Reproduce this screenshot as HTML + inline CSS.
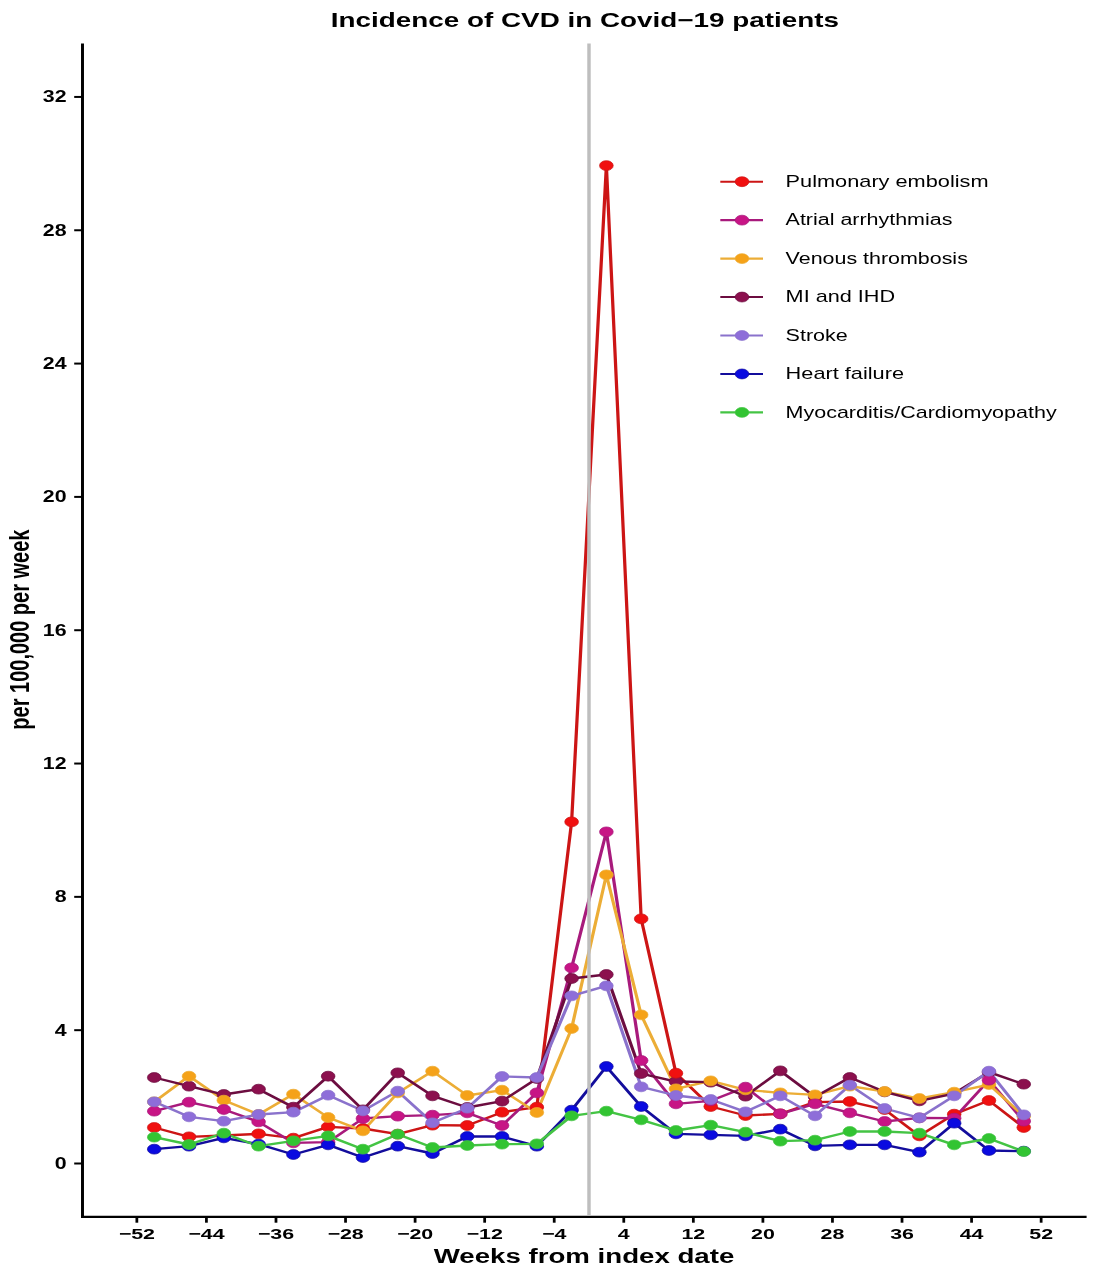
<!DOCTYPE html>
<html><head><meta charset="utf-8"><title>Incidence of CVD in Covid-19 patients</title>
<style>html,body{margin:0;padding:0;background:#fff;}svg{display:block;will-change:transform;}text{font-family:"Liberation Sans",sans-serif;}</style>
</head><body>
<svg width="1113" height="1280" viewBox="0 0 1113 1280">
<rect width="1113" height="1280" fill="#fff"/>
<g transform="scale(1.38,1)">
<line x1="59.78" y1="43.5" x2="59.78" y2="1217.9" stroke="#000" stroke-width="2.15"/>
<line x1="59.06" y1="1216.85" x2="787.39" y2="1216.85" stroke="#000" stroke-width="2.1"/>
<line x1="53.77" y1="1163.50" x2="59.78" y2="1163.50" stroke="#000" stroke-width="2.0"/>
<line x1="53.77" y1="1030.18" x2="59.78" y2="1030.18" stroke="#000" stroke-width="2.0"/>
<line x1="53.77" y1="896.86" x2="59.78" y2="896.86" stroke="#000" stroke-width="2.0"/>
<line x1="53.77" y1="763.54" x2="59.78" y2="763.54" stroke="#000" stroke-width="2.0"/>
<line x1="53.77" y1="630.22" x2="59.78" y2="630.22" stroke="#000" stroke-width="2.0"/>
<line x1="53.77" y1="496.90" x2="59.78" y2="496.90" stroke="#000" stroke-width="2.0"/>
<line x1="53.77" y1="363.58" x2="59.78" y2="363.58" stroke="#000" stroke-width="2.0"/>
<line x1="53.77" y1="230.26" x2="59.78" y2="230.26" stroke="#000" stroke-width="2.0"/>
<line x1="53.77" y1="96.94" x2="59.78" y2="96.94" stroke="#000" stroke-width="2.0"/>
<line x1="99.17" y1="1216.85" x2="99.17" y2="1222.7" stroke="#000" stroke-width="2.0"/>
<line x1="149.58" y1="1216.85" x2="149.58" y2="1222.7" stroke="#000" stroke-width="2.0"/>
<line x1="199.99" y1="1216.85" x2="199.99" y2="1222.7" stroke="#000" stroke-width="2.0"/>
<line x1="250.39" y1="1216.85" x2="250.39" y2="1222.7" stroke="#000" stroke-width="2.0"/>
<line x1="300.80" y1="1216.85" x2="300.80" y2="1222.7" stroke="#000" stroke-width="2.0"/>
<line x1="351.20" y1="1216.85" x2="351.20" y2="1222.7" stroke="#000" stroke-width="2.0"/>
<line x1="401.61" y1="1216.85" x2="401.61" y2="1222.7" stroke="#000" stroke-width="2.0"/>
<line x1="452.01" y1="1216.85" x2="452.01" y2="1222.7" stroke="#000" stroke-width="2.0"/>
<line x1="502.42" y1="1216.85" x2="502.42" y2="1222.7" stroke="#000" stroke-width="2.0"/>
<line x1="552.83" y1="1216.85" x2="552.83" y2="1222.7" stroke="#000" stroke-width="2.0"/>
<line x1="603.23" y1="1216.85" x2="603.23" y2="1222.7" stroke="#000" stroke-width="2.0"/>
<line x1="653.64" y1="1216.85" x2="653.64" y2="1222.7" stroke="#000" stroke-width="2.0"/>
<line x1="704.04" y1="1216.85" x2="704.04" y2="1222.7" stroke="#000" stroke-width="2.0"/>
<line x1="754.45" y1="1216.85" x2="754.45" y2="1222.7" stroke="#000" stroke-width="2.0"/>
<polyline points="111.78,1127.50 136.98,1136.84 162.18,1135.50 187.38,1133.84 212.59,1138.17 237.79,1126.84 262.99,1128.50 288.20,1134.17 313.40,1125.17 338.60,1125.50 363.80,1112.17 389.01,1107.17 414.21,821.87 439.41,165.60 464.62,918.86 489.82,1073.18 515.02,1106.51 540.22,1115.50 565.43,1113.84 590.63,1102.17 615.83,1101.51 641.04,1109.51 666.24,1135.84 691.44,1114.17 716.64,1100.51 741.85,1127.50" fill="none" stroke="#cc1515" stroke-width="2.35" stroke-linejoin="round"/>
<polyline points="111.78,1111.17 136.98,1102.17 162.18,1109.51 187.38,1121.84 212.59,1142.84 237.79,1142.17 262.99,1118.50 288.20,1116.17 313.40,1115.17 338.60,1112.84 363.80,1125.50 389.01,1092.84 414.21,967.85 439.41,831.87 464.62,1060.51 489.82,1103.84 515.02,1100.84 540.22,1087.17 565.43,1113.84 590.63,1103.84 615.83,1112.84 641.04,1121.50 666.24,1117.84 691.44,1118.17 716.64,1080.17 741.85,1121.17" fill="none" stroke="#a81a7c" stroke-width="2.35" stroke-linejoin="round"/>
<polyline points="111.78,1101.84 136.98,1076.18 162.18,1100.17 187.38,1114.50 212.59,1094.17 237.79,1117.50 262.99,1130.84 288.20,1092.84 313.40,1071.18 338.60,1095.51 363.80,1090.17 389.01,1112.51 414.21,1028.51 439.41,874.86 464.62,1014.85 489.82,1088.84 515.02,1080.84 540.22,1089.84 565.43,1092.84 590.63,1094.84 615.83,1086.17 641.04,1091.51 666.24,1098.51 691.44,1092.17 716.64,1084.51 741.85,1116.17" fill="none" stroke="#ecad36" stroke-width="2.35" stroke-linejoin="round"/>
<polyline points="111.78,1077.51 136.98,1086.17 162.18,1094.51 187.38,1089.17 212.59,1107.17 237.79,1076.18 262.99,1109.84 288.20,1072.84 313.40,1095.84 338.60,1107.51 363.80,1101.17 389.01,1078.51 414.21,978.52 439.41,974.52 464.62,1073.51 489.82,1081.51 515.02,1082.17 540.22,1096.17 565.43,1070.84 590.63,1096.84 615.83,1077.51 641.04,1091.84 666.24,1100.84 691.44,1093.51 716.64,1072.18 741.85,1084.17" fill="none" stroke="#6c0d40" stroke-width="2.35" stroke-linejoin="round"/>
<polyline points="111.78,1101.84 136.98,1116.84 162.18,1121.17 187.38,1114.50 212.59,1112.17 237.79,1095.17 262.99,1110.84 288.20,1091.17 313.40,1122.84 338.60,1108.17 363.80,1076.51 389.01,1077.51 414.21,995.85 439.41,985.85 464.62,1086.84 489.82,1095.51 515.02,1099.51 540.22,1111.84 565.43,1095.84 590.63,1115.84 615.83,1085.17 641.04,1108.51 666.24,1117.84 691.44,1095.84 716.64,1071.18 741.85,1114.84" fill="none" stroke="#8a72cc" stroke-width="2.35" stroke-linejoin="round"/>
<polyline points="111.78,1149.17 136.98,1146.17 162.18,1137.84 187.38,1144.17 212.59,1154.50 237.79,1144.84 262.99,1157.50 288.20,1146.17 313.40,1153.50 338.60,1136.50 363.80,1136.50 389.01,1146.17 414.21,1110.17 439.41,1066.51 464.62,1106.51 489.82,1133.84 515.02,1134.84 540.22,1135.84 565.43,1129.17 590.63,1145.84 615.83,1144.84 641.04,1144.84 666.24,1152.17 691.44,1123.17 716.64,1150.50 741.85,1151.17" fill="none" stroke="#130d9c" stroke-width="2.35" stroke-linejoin="round"/>
<polyline points="111.78,1137.17 136.98,1144.50 162.18,1133.17 187.38,1146.17 212.59,1140.84 237.79,1135.84 262.99,1149.17 288.20,1134.17 313.40,1147.50 338.60,1145.50 363.80,1144.17 389.01,1143.84 414.21,1115.84 439.41,1111.17 464.62,1119.84 489.82,1130.50 515.02,1125.17 540.22,1132.17 565.43,1141.17 590.63,1140.17 615.83,1131.50 641.04,1131.50 666.24,1133.17 691.44,1144.84 716.64,1138.50 741.85,1151.50" fill="none" stroke="#44c444" stroke-width="2.35" stroke-linejoin="round"/>
<circle cx="111.78" cy="1077.51" r="4.95" fill="#8c104e" stroke="#6c0d40" stroke-width="0.6"/>
<circle cx="136.98" cy="1086.17" r="4.95" fill="#8c104e" stroke="#6c0d40" stroke-width="0.6"/>
<circle cx="162.18" cy="1094.51" r="4.95" fill="#8c104e" stroke="#6c0d40" stroke-width="0.6"/>
<circle cx="187.38" cy="1089.17" r="4.95" fill="#8c104e" stroke="#6c0d40" stroke-width="0.6"/>
<circle cx="212.59" cy="1107.17" r="4.95" fill="#8c104e" stroke="#6c0d40" stroke-width="0.6"/>
<circle cx="237.79" cy="1076.18" r="4.95" fill="#8c104e" stroke="#6c0d40" stroke-width="0.6"/>
<circle cx="262.99" cy="1109.84" r="4.95" fill="#8c104e" stroke="#6c0d40" stroke-width="0.6"/>
<circle cx="288.20" cy="1072.84" r="4.95" fill="#8c104e" stroke="#6c0d40" stroke-width="0.6"/>
<circle cx="313.40" cy="1095.84" r="4.95" fill="#8c104e" stroke="#6c0d40" stroke-width="0.6"/>
<circle cx="338.60" cy="1107.51" r="4.95" fill="#8c104e" stroke="#6c0d40" stroke-width="0.6"/>
<circle cx="363.80" cy="1101.17" r="4.95" fill="#8c104e" stroke="#6c0d40" stroke-width="0.6"/>
<circle cx="389.01" cy="1078.51" r="4.95" fill="#8c104e" stroke="#6c0d40" stroke-width="0.6"/>
<circle cx="414.21" cy="978.52" r="4.95" fill="#8c104e" stroke="#6c0d40" stroke-width="0.6"/>
<circle cx="439.41" cy="974.52" r="4.95" fill="#8c104e" stroke="#6c0d40" stroke-width="0.6"/>
<circle cx="464.62" cy="1073.51" r="4.95" fill="#8c104e" stroke="#6c0d40" stroke-width="0.6"/>
<circle cx="489.82" cy="1081.51" r="4.95" fill="#8c104e" stroke="#6c0d40" stroke-width="0.6"/>
<circle cx="515.02" cy="1082.17" r="4.95" fill="#8c104e" stroke="#6c0d40" stroke-width="0.6"/>
<circle cx="540.22" cy="1096.17" r="4.95" fill="#8c104e" stroke="#6c0d40" stroke-width="0.6"/>
<circle cx="565.43" cy="1070.84" r="4.95" fill="#8c104e" stroke="#6c0d40" stroke-width="0.6"/>
<circle cx="590.63" cy="1096.84" r="4.95" fill="#8c104e" stroke="#6c0d40" stroke-width="0.6"/>
<circle cx="615.83" cy="1077.51" r="4.95" fill="#8c104e" stroke="#6c0d40" stroke-width="0.6"/>
<circle cx="641.04" cy="1091.84" r="4.95" fill="#8c104e" stroke="#6c0d40" stroke-width="0.6"/>
<circle cx="666.24" cy="1100.84" r="4.95" fill="#8c104e" stroke="#6c0d40" stroke-width="0.6"/>
<circle cx="691.44" cy="1093.51" r="4.95" fill="#8c104e" stroke="#6c0d40" stroke-width="0.6"/>
<circle cx="716.64" cy="1072.18" r="4.95" fill="#8c104e" stroke="#6c0d40" stroke-width="0.6"/>
<circle cx="741.85" cy="1084.17" r="4.95" fill="#8c104e" stroke="#6c0d40" stroke-width="0.6"/>
<circle cx="111.78" cy="1127.50" r="4.95" fill="#f01010" stroke="#cc1515" stroke-width="0.6"/>
<circle cx="136.98" cy="1136.84" r="4.95" fill="#f01010" stroke="#cc1515" stroke-width="0.6"/>
<circle cx="162.18" cy="1135.50" r="4.95" fill="#f01010" stroke="#cc1515" stroke-width="0.6"/>
<circle cx="187.38" cy="1133.84" r="4.95" fill="#f01010" stroke="#cc1515" stroke-width="0.6"/>
<circle cx="212.59" cy="1138.17" r="4.95" fill="#f01010" stroke="#cc1515" stroke-width="0.6"/>
<circle cx="237.79" cy="1126.84" r="4.95" fill="#f01010" stroke="#cc1515" stroke-width="0.6"/>
<circle cx="262.99" cy="1128.50" r="4.95" fill="#f01010" stroke="#cc1515" stroke-width="0.6"/>
<circle cx="288.20" cy="1134.17" r="4.95" fill="#f01010" stroke="#cc1515" stroke-width="0.6"/>
<circle cx="313.40" cy="1125.17" r="4.95" fill="#f01010" stroke="#cc1515" stroke-width="0.6"/>
<circle cx="338.60" cy="1125.50" r="4.95" fill="#f01010" stroke="#cc1515" stroke-width="0.6"/>
<circle cx="363.80" cy="1112.17" r="4.95" fill="#f01010" stroke="#cc1515" stroke-width="0.6"/>
<circle cx="389.01" cy="1107.17" r="4.95" fill="#f01010" stroke="#cc1515" stroke-width="0.6"/>
<circle cx="414.21" cy="821.87" r="4.95" fill="#f01010" stroke="#cc1515" stroke-width="0.6"/>
<circle cx="439.41" cy="165.60" r="4.95" fill="#f01010" stroke="#cc1515" stroke-width="0.6"/>
<circle cx="464.62" cy="918.86" r="4.95" fill="#f01010" stroke="#cc1515" stroke-width="0.6"/>
<circle cx="489.82" cy="1073.18" r="4.95" fill="#f01010" stroke="#cc1515" stroke-width="0.6"/>
<circle cx="515.02" cy="1106.51" r="4.95" fill="#f01010" stroke="#cc1515" stroke-width="0.6"/>
<circle cx="540.22" cy="1115.50" r="4.95" fill="#f01010" stroke="#cc1515" stroke-width="0.6"/>
<circle cx="565.43" cy="1113.84" r="4.95" fill="#f01010" stroke="#cc1515" stroke-width="0.6"/>
<circle cx="590.63" cy="1102.17" r="4.95" fill="#f01010" stroke="#cc1515" stroke-width="0.6"/>
<circle cx="615.83" cy="1101.51" r="4.95" fill="#f01010" stroke="#cc1515" stroke-width="0.6"/>
<circle cx="641.04" cy="1109.51" r="4.95" fill="#f01010" stroke="#cc1515" stroke-width="0.6"/>
<circle cx="666.24" cy="1135.84" r="4.95" fill="#f01010" stroke="#cc1515" stroke-width="0.6"/>
<circle cx="691.44" cy="1114.17" r="4.95" fill="#f01010" stroke="#cc1515" stroke-width="0.6"/>
<circle cx="716.64" cy="1100.51" r="4.95" fill="#f01010" stroke="#cc1515" stroke-width="0.6"/>
<circle cx="741.85" cy="1127.50" r="4.95" fill="#f01010" stroke="#cc1515" stroke-width="0.6"/>
<circle cx="111.78" cy="1101.84" r="4.95" fill="#f5a219" stroke="#ecad36" stroke-width="0.6"/>
<circle cx="136.98" cy="1076.18" r="4.95" fill="#f5a219" stroke="#ecad36" stroke-width="0.6"/>
<circle cx="162.18" cy="1100.17" r="4.95" fill="#f5a219" stroke="#ecad36" stroke-width="0.6"/>
<circle cx="187.38" cy="1114.50" r="4.95" fill="#f5a219" stroke="#ecad36" stroke-width="0.6"/>
<circle cx="212.59" cy="1094.17" r="4.95" fill="#f5a219" stroke="#ecad36" stroke-width="0.6"/>
<circle cx="237.79" cy="1117.50" r="4.95" fill="#f5a219" stroke="#ecad36" stroke-width="0.6"/>
<circle cx="262.99" cy="1130.84" r="4.95" fill="#f5a219" stroke="#ecad36" stroke-width="0.6"/>
<circle cx="288.20" cy="1092.84" r="4.95" fill="#f5a219" stroke="#ecad36" stroke-width="0.6"/>
<circle cx="313.40" cy="1071.18" r="4.95" fill="#f5a219" stroke="#ecad36" stroke-width="0.6"/>
<circle cx="338.60" cy="1095.51" r="4.95" fill="#f5a219" stroke="#ecad36" stroke-width="0.6"/>
<circle cx="363.80" cy="1090.17" r="4.95" fill="#f5a219" stroke="#ecad36" stroke-width="0.6"/>
<circle cx="389.01" cy="1112.51" r="4.95" fill="#f5a219" stroke="#ecad36" stroke-width="0.6"/>
<circle cx="414.21" cy="1028.51" r="4.95" fill="#f5a219" stroke="#ecad36" stroke-width="0.6"/>
<circle cx="439.41" cy="874.86" r="4.95" fill="#f5a219" stroke="#ecad36" stroke-width="0.6"/>
<circle cx="464.62" cy="1014.85" r="4.95" fill="#f5a219" stroke="#ecad36" stroke-width="0.6"/>
<circle cx="489.82" cy="1088.84" r="4.95" fill="#f5a219" stroke="#ecad36" stroke-width="0.6"/>
<circle cx="515.02" cy="1080.84" r="4.95" fill="#f5a219" stroke="#ecad36" stroke-width="0.6"/>
<circle cx="540.22" cy="1089.84" r="4.95" fill="#f5a219" stroke="#ecad36" stroke-width="0.6"/>
<circle cx="565.43" cy="1092.84" r="4.95" fill="#f5a219" stroke="#ecad36" stroke-width="0.6"/>
<circle cx="590.63" cy="1094.84" r="4.95" fill="#f5a219" stroke="#ecad36" stroke-width="0.6"/>
<circle cx="615.83" cy="1086.17" r="4.95" fill="#f5a219" stroke="#ecad36" stroke-width="0.6"/>
<circle cx="641.04" cy="1091.51" r="4.95" fill="#f5a219" stroke="#ecad36" stroke-width="0.6"/>
<circle cx="666.24" cy="1098.51" r="4.95" fill="#f5a219" stroke="#ecad36" stroke-width="0.6"/>
<circle cx="691.44" cy="1092.17" r="4.95" fill="#f5a219" stroke="#ecad36" stroke-width="0.6"/>
<circle cx="716.64" cy="1084.51" r="4.95" fill="#f5a219" stroke="#ecad36" stroke-width="0.6"/>
<circle cx="741.85" cy="1116.17" r="4.95" fill="#f5a219" stroke="#ecad36" stroke-width="0.6"/>
<circle cx="111.78" cy="1111.17" r="4.95" fill="#c71585" stroke="#a81a7c" stroke-width="0.6"/>
<circle cx="136.98" cy="1102.17" r="4.95" fill="#c71585" stroke="#a81a7c" stroke-width="0.6"/>
<circle cx="162.18" cy="1109.51" r="4.95" fill="#c71585" stroke="#a81a7c" stroke-width="0.6"/>
<circle cx="187.38" cy="1121.84" r="4.95" fill="#c71585" stroke="#a81a7c" stroke-width="0.6"/>
<circle cx="212.59" cy="1142.84" r="4.95" fill="#c71585" stroke="#a81a7c" stroke-width="0.6"/>
<circle cx="237.79" cy="1142.17" r="4.95" fill="#c71585" stroke="#a81a7c" stroke-width="0.6"/>
<circle cx="262.99" cy="1118.50" r="4.95" fill="#c71585" stroke="#a81a7c" stroke-width="0.6"/>
<circle cx="288.20" cy="1116.17" r="4.95" fill="#c71585" stroke="#a81a7c" stroke-width="0.6"/>
<circle cx="313.40" cy="1115.17" r="4.95" fill="#c71585" stroke="#a81a7c" stroke-width="0.6"/>
<circle cx="338.60" cy="1112.84" r="4.95" fill="#c71585" stroke="#a81a7c" stroke-width="0.6"/>
<circle cx="363.80" cy="1125.50" r="4.95" fill="#c71585" stroke="#a81a7c" stroke-width="0.6"/>
<circle cx="389.01" cy="1092.84" r="4.95" fill="#c71585" stroke="#a81a7c" stroke-width="0.6"/>
<circle cx="414.21" cy="967.85" r="4.95" fill="#c71585" stroke="#a81a7c" stroke-width="0.6"/>
<circle cx="439.41" cy="831.87" r="4.95" fill="#c71585" stroke="#a81a7c" stroke-width="0.6"/>
<circle cx="464.62" cy="1060.51" r="4.95" fill="#c71585" stroke="#a81a7c" stroke-width="0.6"/>
<circle cx="489.82" cy="1103.84" r="4.95" fill="#c71585" stroke="#a81a7c" stroke-width="0.6"/>
<circle cx="515.02" cy="1100.84" r="4.95" fill="#c71585" stroke="#a81a7c" stroke-width="0.6"/>
<circle cx="540.22" cy="1087.17" r="4.95" fill="#c71585" stroke="#a81a7c" stroke-width="0.6"/>
<circle cx="565.43" cy="1113.84" r="4.95" fill="#c71585" stroke="#a81a7c" stroke-width="0.6"/>
<circle cx="590.63" cy="1103.84" r="4.95" fill="#c71585" stroke="#a81a7c" stroke-width="0.6"/>
<circle cx="615.83" cy="1112.84" r="4.95" fill="#c71585" stroke="#a81a7c" stroke-width="0.6"/>
<circle cx="641.04" cy="1121.50" r="4.95" fill="#c71585" stroke="#a81a7c" stroke-width="0.6"/>
<circle cx="666.24" cy="1117.84" r="4.95" fill="#c71585" stroke="#a81a7c" stroke-width="0.6"/>
<circle cx="691.44" cy="1118.17" r="4.95" fill="#c71585" stroke="#a81a7c" stroke-width="0.6"/>
<circle cx="716.64" cy="1080.17" r="4.95" fill="#c71585" stroke="#a81a7c" stroke-width="0.6"/>
<circle cx="741.85" cy="1121.17" r="4.95" fill="#c71585" stroke="#a81a7c" stroke-width="0.6"/>
<circle cx="111.78" cy="1101.84" r="4.95" fill="#8e6ed9" stroke="#8a72cc" stroke-width="0.6"/>
<circle cx="136.98" cy="1116.84" r="4.95" fill="#8e6ed9" stroke="#8a72cc" stroke-width="0.6"/>
<circle cx="162.18" cy="1121.17" r="4.95" fill="#8e6ed9" stroke="#8a72cc" stroke-width="0.6"/>
<circle cx="187.38" cy="1114.50" r="4.95" fill="#8e6ed9" stroke="#8a72cc" stroke-width="0.6"/>
<circle cx="212.59" cy="1112.17" r="4.95" fill="#8e6ed9" stroke="#8a72cc" stroke-width="0.6"/>
<circle cx="237.79" cy="1095.17" r="4.95" fill="#8e6ed9" stroke="#8a72cc" stroke-width="0.6"/>
<circle cx="262.99" cy="1110.84" r="4.95" fill="#8e6ed9" stroke="#8a72cc" stroke-width="0.6"/>
<circle cx="288.20" cy="1091.17" r="4.95" fill="#8e6ed9" stroke="#8a72cc" stroke-width="0.6"/>
<circle cx="313.40" cy="1122.84" r="4.95" fill="#8e6ed9" stroke="#8a72cc" stroke-width="0.6"/>
<circle cx="338.60" cy="1108.17" r="4.95" fill="#8e6ed9" stroke="#8a72cc" stroke-width="0.6"/>
<circle cx="363.80" cy="1076.51" r="4.95" fill="#8e6ed9" stroke="#8a72cc" stroke-width="0.6"/>
<circle cx="389.01" cy="1077.51" r="4.95" fill="#8e6ed9" stroke="#8a72cc" stroke-width="0.6"/>
<circle cx="414.21" cy="995.85" r="4.95" fill="#8e6ed9" stroke="#8a72cc" stroke-width="0.6"/>
<circle cx="439.41" cy="985.85" r="4.95" fill="#8e6ed9" stroke="#8a72cc" stroke-width="0.6"/>
<circle cx="464.62" cy="1086.84" r="4.95" fill="#8e6ed9" stroke="#8a72cc" stroke-width="0.6"/>
<circle cx="489.82" cy="1095.51" r="4.95" fill="#8e6ed9" stroke="#8a72cc" stroke-width="0.6"/>
<circle cx="515.02" cy="1099.51" r="4.95" fill="#8e6ed9" stroke="#8a72cc" stroke-width="0.6"/>
<circle cx="540.22" cy="1111.84" r="4.95" fill="#8e6ed9" stroke="#8a72cc" stroke-width="0.6"/>
<circle cx="565.43" cy="1095.84" r="4.95" fill="#8e6ed9" stroke="#8a72cc" stroke-width="0.6"/>
<circle cx="590.63" cy="1115.84" r="4.95" fill="#8e6ed9" stroke="#8a72cc" stroke-width="0.6"/>
<circle cx="615.83" cy="1085.17" r="4.95" fill="#8e6ed9" stroke="#8a72cc" stroke-width="0.6"/>
<circle cx="641.04" cy="1108.51" r="4.95" fill="#8e6ed9" stroke="#8a72cc" stroke-width="0.6"/>
<circle cx="666.24" cy="1117.84" r="4.95" fill="#8e6ed9" stroke="#8a72cc" stroke-width="0.6"/>
<circle cx="691.44" cy="1095.84" r="4.95" fill="#8e6ed9" stroke="#8a72cc" stroke-width="0.6"/>
<circle cx="716.64" cy="1071.18" r="4.95" fill="#8e6ed9" stroke="#8a72cc" stroke-width="0.6"/>
<circle cx="741.85" cy="1114.84" r="4.95" fill="#8e6ed9" stroke="#8a72cc" stroke-width="0.6"/>
<circle cx="111.78" cy="1149.17" r="4.95" fill="#0a0ae0" stroke="#130d9c" stroke-width="0.6"/>
<circle cx="136.98" cy="1146.17" r="4.95" fill="#0a0ae0" stroke="#130d9c" stroke-width="0.6"/>
<circle cx="162.18" cy="1137.84" r="4.95" fill="#0a0ae0" stroke="#130d9c" stroke-width="0.6"/>
<circle cx="187.38" cy="1144.17" r="4.95" fill="#0a0ae0" stroke="#130d9c" stroke-width="0.6"/>
<circle cx="212.59" cy="1154.50" r="4.95" fill="#0a0ae0" stroke="#130d9c" stroke-width="0.6"/>
<circle cx="237.79" cy="1144.84" r="4.95" fill="#0a0ae0" stroke="#130d9c" stroke-width="0.6"/>
<circle cx="262.99" cy="1157.50" r="4.95" fill="#0a0ae0" stroke="#130d9c" stroke-width="0.6"/>
<circle cx="288.20" cy="1146.17" r="4.95" fill="#0a0ae0" stroke="#130d9c" stroke-width="0.6"/>
<circle cx="313.40" cy="1153.50" r="4.95" fill="#0a0ae0" stroke="#130d9c" stroke-width="0.6"/>
<circle cx="338.60" cy="1136.50" r="4.95" fill="#0a0ae0" stroke="#130d9c" stroke-width="0.6"/>
<circle cx="363.80" cy="1136.50" r="4.95" fill="#0a0ae0" stroke="#130d9c" stroke-width="0.6"/>
<circle cx="389.01" cy="1146.17" r="4.95" fill="#0a0ae0" stroke="#130d9c" stroke-width="0.6"/>
<circle cx="414.21" cy="1110.17" r="4.95" fill="#0a0ae0" stroke="#130d9c" stroke-width="0.6"/>
<circle cx="439.41" cy="1066.51" r="4.95" fill="#0a0ae0" stroke="#130d9c" stroke-width="0.6"/>
<circle cx="464.62" cy="1106.51" r="4.95" fill="#0a0ae0" stroke="#130d9c" stroke-width="0.6"/>
<circle cx="489.82" cy="1133.84" r="4.95" fill="#0a0ae0" stroke="#130d9c" stroke-width="0.6"/>
<circle cx="515.02" cy="1134.84" r="4.95" fill="#0a0ae0" stroke="#130d9c" stroke-width="0.6"/>
<circle cx="540.22" cy="1135.84" r="4.95" fill="#0a0ae0" stroke="#130d9c" stroke-width="0.6"/>
<circle cx="565.43" cy="1129.17" r="4.95" fill="#0a0ae0" stroke="#130d9c" stroke-width="0.6"/>
<circle cx="590.63" cy="1145.84" r="4.95" fill="#0a0ae0" stroke="#130d9c" stroke-width="0.6"/>
<circle cx="615.83" cy="1144.84" r="4.95" fill="#0a0ae0" stroke="#130d9c" stroke-width="0.6"/>
<circle cx="641.04" cy="1144.84" r="4.95" fill="#0a0ae0" stroke="#130d9c" stroke-width="0.6"/>
<circle cx="666.24" cy="1152.17" r="4.95" fill="#0a0ae0" stroke="#130d9c" stroke-width="0.6"/>
<circle cx="691.44" cy="1123.17" r="4.95" fill="#0a0ae0" stroke="#130d9c" stroke-width="0.6"/>
<circle cx="716.64" cy="1150.50" r="4.95" fill="#0a0ae0" stroke="#130d9c" stroke-width="0.6"/>
<circle cx="741.85" cy="1151.17" r="4.95" fill="#0a0ae0" stroke="#130d9c" stroke-width="0.6"/>
<circle cx="111.78" cy="1137.17" r="4.95" fill="#32c432" stroke="#44c444" stroke-width="0.6"/>
<circle cx="136.98" cy="1144.50" r="4.95" fill="#32c432" stroke="#44c444" stroke-width="0.6"/>
<circle cx="162.18" cy="1133.17" r="4.95" fill="#32c432" stroke="#44c444" stroke-width="0.6"/>
<circle cx="187.38" cy="1146.17" r="4.95" fill="#32c432" stroke="#44c444" stroke-width="0.6"/>
<circle cx="212.59" cy="1140.84" r="4.95" fill="#32c432" stroke="#44c444" stroke-width="0.6"/>
<circle cx="237.79" cy="1135.84" r="4.95" fill="#32c432" stroke="#44c444" stroke-width="0.6"/>
<circle cx="262.99" cy="1149.17" r="4.95" fill="#32c432" stroke="#44c444" stroke-width="0.6"/>
<circle cx="288.20" cy="1134.17" r="4.95" fill="#32c432" stroke="#44c444" stroke-width="0.6"/>
<circle cx="313.40" cy="1147.50" r="4.95" fill="#32c432" stroke="#44c444" stroke-width="0.6"/>
<circle cx="338.60" cy="1145.50" r="4.95" fill="#32c432" stroke="#44c444" stroke-width="0.6"/>
<circle cx="363.80" cy="1144.17" r="4.95" fill="#32c432" stroke="#44c444" stroke-width="0.6"/>
<circle cx="389.01" cy="1143.84" r="4.95" fill="#32c432" stroke="#44c444" stroke-width="0.6"/>
<circle cx="414.21" cy="1115.84" r="4.95" fill="#32c432" stroke="#44c444" stroke-width="0.6"/>
<circle cx="439.41" cy="1111.17" r="4.95" fill="#32c432" stroke="#44c444" stroke-width="0.6"/>
<circle cx="464.62" cy="1119.84" r="4.95" fill="#32c432" stroke="#44c444" stroke-width="0.6"/>
<circle cx="489.82" cy="1130.50" r="4.95" fill="#32c432" stroke="#44c444" stroke-width="0.6"/>
<circle cx="515.02" cy="1125.17" r="4.95" fill="#32c432" stroke="#44c444" stroke-width="0.6"/>
<circle cx="540.22" cy="1132.17" r="4.95" fill="#32c432" stroke="#44c444" stroke-width="0.6"/>
<circle cx="565.43" cy="1141.17" r="4.95" fill="#32c432" stroke="#44c444" stroke-width="0.6"/>
<circle cx="590.63" cy="1140.17" r="4.95" fill="#32c432" stroke="#44c444" stroke-width="0.6"/>
<circle cx="615.83" cy="1131.50" r="4.95" fill="#32c432" stroke="#44c444" stroke-width="0.6"/>
<circle cx="641.04" cy="1131.50" r="4.95" fill="#32c432" stroke="#44c444" stroke-width="0.6"/>
<circle cx="666.24" cy="1133.17" r="4.95" fill="#32c432" stroke="#44c444" stroke-width="0.6"/>
<circle cx="691.44" cy="1144.84" r="4.95" fill="#32c432" stroke="#44c444" stroke-width="0.6"/>
<circle cx="716.64" cy="1138.50" r="4.95" fill="#32c432" stroke="#44c444" stroke-width="0.6"/>
<circle cx="741.85" cy="1151.50" r="4.95" fill="#32c432" stroke="#44c444" stroke-width="0.6"/>
<line x1="426.81" y1="43.5" x2="426.81" y2="1216" stroke="#bebebe" stroke-width="2.5"/>
<line x1="521.96" y1="181.70" x2="552.90" y2="181.70" stroke="#cc1515" stroke-width="2.1"/>
<circle cx="537.68" cy="181.70" r="4.95" fill="#f01010" stroke="#cc1515" stroke-width="0.6"/>
<line x1="521.96" y1="220.15" x2="552.90" y2="220.15" stroke="#a81a7c" stroke-width="2.1"/>
<circle cx="537.68" cy="220.15" r="4.95" fill="#c71585" stroke="#a81a7c" stroke-width="0.6"/>
<line x1="521.96" y1="258.60" x2="552.90" y2="258.60" stroke="#ecad36" stroke-width="2.1"/>
<circle cx="537.68" cy="258.60" r="4.95" fill="#f5a219" stroke="#ecad36" stroke-width="0.6"/>
<line x1="521.96" y1="297.05" x2="552.90" y2="297.05" stroke="#6c0d40" stroke-width="2.1"/>
<circle cx="537.68" cy="297.05" r="4.95" fill="#8c104e" stroke="#6c0d40" stroke-width="0.6"/>
<line x1="521.96" y1="335.50" x2="552.90" y2="335.50" stroke="#8a72cc" stroke-width="2.1"/>
<circle cx="537.68" cy="335.50" r="4.95" fill="#8e6ed9" stroke="#8a72cc" stroke-width="0.6"/>
<line x1="521.96" y1="373.95" x2="552.90" y2="373.95" stroke="#130d9c" stroke-width="2.1"/>
<circle cx="537.68" cy="373.95" r="4.95" fill="#0a0ae0" stroke="#130d9c" stroke-width="0.6"/>
<line x1="521.96" y1="412.40" x2="552.90" y2="412.40" stroke="#44c444" stroke-width="2.1"/>
<circle cx="537.68" cy="412.40" r="4.95" fill="#32c432" stroke="#44c444" stroke-width="0.6"/>
</g>
<text transform="translate(584.90,26.70) scale(1.4,1)" font-size="19.9" font-weight="bold" text-anchor="middle">Incidence of CVD in Covid−19 patients</text>
<text transform="translate(584.00,1262.60) scale(1.383,1)" font-size="20.0" font-weight="bold" text-anchor="middle">Weeks from index date</text>
<text transform="translate(28.75,629.60) rotate(-90) scale(1,1.38)" font-size="20.0" font-weight="bold" text-anchor="middle">per 100,000 per week</text>
<text transform="translate(66.60,1168.95) scale(1.37,1)" font-size="15.6" font-weight="bold" text-anchor="end">0</text>
<text transform="translate(66.60,1035.63) scale(1.37,1)" font-size="15.6" font-weight="bold" text-anchor="end">4</text>
<text transform="translate(66.60,902.31) scale(1.37,1)" font-size="15.6" font-weight="bold" text-anchor="end">8</text>
<text transform="translate(66.60,768.99) scale(1.37,1)" font-size="15.6" font-weight="bold" text-anchor="end">12</text>
<text transform="translate(66.60,635.67) scale(1.37,1)" font-size="15.6" font-weight="bold" text-anchor="end">16</text>
<text transform="translate(66.60,502.35) scale(1.37,1)" font-size="15.6" font-weight="bold" text-anchor="end">20</text>
<text transform="translate(66.60,369.03) scale(1.37,1)" font-size="15.6" font-weight="bold" text-anchor="end">24</text>
<text transform="translate(66.60,235.71) scale(1.37,1)" font-size="15.6" font-weight="bold" text-anchor="end">28</text>
<text transform="translate(66.60,102.39) scale(1.37,1)" font-size="15.6" font-weight="bold" text-anchor="end">32</text>
<text transform="translate(136.86,1238.70) scale(1.39,1)" font-size="15.4" font-weight="bold" text-anchor="middle">−52</text>
<text transform="translate(206.42,1238.70) scale(1.39,1)" font-size="15.4" font-weight="bold" text-anchor="middle">−44</text>
<text transform="translate(275.98,1238.70) scale(1.39,1)" font-size="15.4" font-weight="bold" text-anchor="middle">−36</text>
<text transform="translate(345.54,1238.70) scale(1.39,1)" font-size="15.4" font-weight="bold" text-anchor="middle">−28</text>
<text transform="translate(415.10,1238.70) scale(1.39,1)" font-size="15.4" font-weight="bold" text-anchor="middle">−20</text>
<text transform="translate(484.66,1238.70) scale(1.39,1)" font-size="15.4" font-weight="bold" text-anchor="middle">−12</text>
<text transform="translate(554.22,1238.70) scale(1.39,1)" font-size="15.4" font-weight="bold" text-anchor="middle">−4</text>
<text transform="translate(623.78,1238.70) scale(1.39,1)" font-size="15.4" font-weight="bold" text-anchor="middle">4</text>
<text transform="translate(693.34,1238.70) scale(1.39,1)" font-size="15.4" font-weight="bold" text-anchor="middle">12</text>
<text transform="translate(762.90,1238.70) scale(1.39,1)" font-size="15.4" font-weight="bold" text-anchor="middle">20</text>
<text transform="translate(832.46,1238.70) scale(1.39,1)" font-size="15.4" font-weight="bold" text-anchor="middle">28</text>
<text transform="translate(902.02,1238.70) scale(1.39,1)" font-size="15.4" font-weight="bold" text-anchor="middle">36</text>
<text transform="translate(971.58,1238.70) scale(1.39,1)" font-size="15.4" font-weight="bold" text-anchor="middle">44</text>
<text transform="translate(1041.14,1238.70) scale(1.39,1)" font-size="15.4" font-weight="bold" text-anchor="middle">52</text>
<text transform="translate(785.60,186.90) scale(1.3595,1)" font-size="16.0" font-weight="normal" text-anchor="start">Pulmonary embolism</text>
<text transform="translate(785.60,225.35) scale(1.3412,1)" font-size="16.0" font-weight="normal" text-anchor="start">Atrial arrhythmias</text>
<text transform="translate(785.60,263.80) scale(1.3401,1)" font-size="16.0" font-weight="normal" text-anchor="start">Venous thrombosis</text>
<text transform="translate(785.60,302.25) scale(1.354,1)" font-size="16.0" font-weight="normal" text-anchor="start">MI and IHD</text>
<text transform="translate(785.60,340.70) scale(1.346,1)" font-size="16.0" font-weight="normal" text-anchor="start">Stroke</text>
<text transform="translate(785.60,379.15) scale(1.36,1)" font-size="16.0" font-weight="normal" text-anchor="start">Heart failure</text>
<text transform="translate(785.60,417.60) scale(1.3433,1)" font-size="16.0" font-weight="normal" text-anchor="start">Myocarditis/Cardiomyopathy</text>
</svg>
</body></html>
